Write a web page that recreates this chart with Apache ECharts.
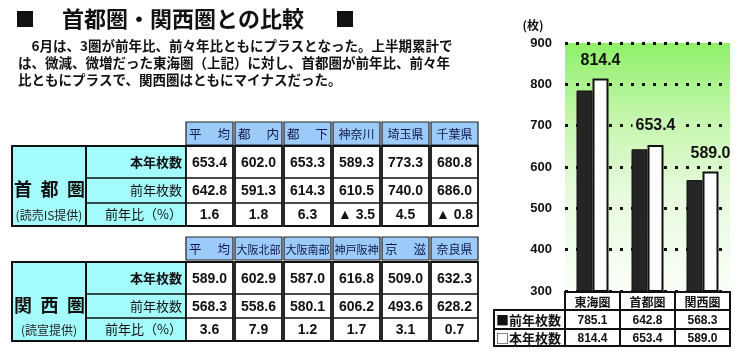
<!DOCTYPE html>
<html><head><meta charset="utf-8">
<script src="https://cdn.jsdelivr.net/npm/echarts@6/dist/echarts.min.js"></script>
<style>html,body{margin:0;padding:0;background:#fff}#c{width:747px;height:356px}</style>
</head><body><div id="c"></div>
<script>
// ---------- data ----------
const titleText = '首都圏・関西圏との比較';
const paragraph = [
  '　6月は、3圏が前年比、前々年比ともにプラスとなった。上半期累計で',
  'は、微減、微増だった東海圏（上記）に対し、首都圏が前年比、前々年',
  '比ともにプラスで、関西圏はともにマイナスだった。'
];
const rowLabels = ['本年枚数', '前年枚数', '前年比（%）'];

const shutoName = ['首', '都', '圏'];
const shutoSource = '(読売IS提供)';
const shutoCols = ['平　均', '都　内', '都　下', '神奈川', '埼玉県', '千葉県'];
const shutoThis = [653.4, 602.0, 653.3, 589.3, 773.3, 680.8];
const shutoPrev = [642.8, 591.3, 614.3, 610.5, 740.0, 686.0];
const shutoRatio = ['1.6', '1.8', '6.3', '▲ 3.5', '4.5', '▲ 0.8'];

const kansaiName = ['関', '西', '圏'];
const kansaiSource = '(読宣提供)';
const kansaiCols = ['平　均', '大阪北部', '大阪南部', '神戸阪神', '京　滋', '奈良県'];
const kansaiThis = [589.0, 602.9, 587.0, 616.8, 509.0, 632.3];
const kansaiPrev = [568.3, 558.6, 580.1, 606.2, 493.6, 628.2];
const kansaiRatio = ['3.6', '7.9', '1.2', '1.7', '3.1', '0.7'];

const regions = ['東海圏', '首都圏', '関西圏'];
const prevYear = [785.1, 642.8, 568.3];
const thisYear = [814.4, 653.4, 589.0];
const seriesNames = ['前年枚数', '本年枚数'];
const yMin = 300, yMax = 900, yStep = 100;
const yUnit = '(枚)';

// ---------- helpers ----------
const JP = "'Noto Sans CJK JP', sans-serif";
const NUM = "'Liberation Sans', 'Noto Sans CJK JP', sans-serif";
function rect(x, y, w, h, fill, stroke, lw, z) {
  return { type: 'rect', z: z || 10, shape: { x, y, width: w, height: h },
    style: { fill: fill, stroke: stroke || null, lineWidth: lw || 0 } };
}
function line(x1, y1, x2, y2, lw, z) {
  return { type: 'line', z: z || 11, shape: { x1, y1, x2, y2 }, style: { stroke: '#111', lineWidth: lw || 1.5 } };
}
function text(x, y, str, font, align, color, z) {
  return { type: 'text', z: z || 12,
    style: { x, y, text: str, font: font, fill: color || '#111',
      textAlign: align || 'center', textVerticalAlign: 'middle', align: align || 'center', verticalAlign: 'middle' } };
}

function buildTable(g, cfg) {
  const { headerY, headerH, rows, cols, name, source, thisV, prevV, ratio, nameY, srcY } = cfg;
  const colX = [186, 235, 284, 333, 382, 431], colW = 47;
  const top = rows[0], bottom = rows[3];
  cols.forEach((c, i) => {
    g.push(rect(colX[i], headerY, colW, headerH, '#9ccbfa', '#222', 1.2));
    const cy = headerY + headerH / 2 + 1;
    if (c.indexOf('　') >= 0) {
      const p = c.split('　');
      g.push(text(colX[i] + 3, cy, p[0], '12.5px ' + JP, 'left', '#10184a'));
      g.push(text(colX[i] + colW - 3, cy, p[1], '12.5px ' + JP, 'right', '#10184a'));
    } else {
      g.push(text(colX[i] + colW / 2, cy, c, (c.length > 3 ? '11px ' : '12px ') + JP, 'center', '#10184a'));
    }
  });
  g.push(rect(12, top, 74, bottom - top, '#a3fbfb', '#111', 2));
  g.push(rect(86, top, 100, bottom - top, '#a3fbfb', '#111', 2));
  g.push(line(86, rows[1], 186, rows[1], 1.5));
  g.push(line(86, rows[2], 186, rows[2], 1.5));
  name.forEach((ch, i) => g.push(text(23 + i * 26.5, nameY, ch, 'bold 18px ' + JP, 'center', '#111')));
  g.push(text(49, srcY, source, '12px ' + JP, 'center', '#222'));
  rowLabels.forEach((lb, r) => {
    const cy = (rows[r] + rows[r + 1]) / 2;
    g.push(text(182, cy, lb, (r === 0 ? 'bold ' : '') + '13px ' + JP, 'right', '#111'));
  });
  cols.forEach((c, i) => {
    g.push(rect(colX[i], top, colW, bottom - top, '#ffffff', '#111', 1.8));
    g.push(line(colX[i], rows[1], colX[i] + colW, rows[1], 1.5));
    g.push(line(colX[i], rows[2], colX[i] + colW, rows[2], 1.5));
    const vals = [thisV[i].toFixed(1), prevV[i].toFixed(1), ratio[i]];
    vals.forEach((v, r) => {
      const cy = (rows[r] + rows[r + 1]) / 2 + 1;
      g.push(text(colX[i] + colW / 2, cy, v, 'bold 14px ' + NUM, 'center', '#111'));
    });
  });
}

// ---------- chart ----------
const chart = echarts.init(document.getElementById('c'), null, { renderer: 'canvas' });
const gridL = 565, gridT = 43, gridW = 165, gridH = 248;
chart.setOption({
  animation: false,
  backgroundColor: '#ffffff',
  grid: { left: gridL, top: gridT, width: gridW, height: gridH, show: true, borderWidth: 0,
    backgroundColor: { type: 'linear', x: 0, y: 0, x2: 0, y2: 1,
      colorStops: [{ offset: 0, color: '#8ef068' }, { offset: 0.3, color: '#c4f6ac' },
        { offset: 0.6, color: '#e6fadc' }, { offset: 1, color: '#fbfff9' }] } },
  xAxis: { type: 'category', data: regions, axisLine: { show: false }, axisTick: { show: false },
    axisLabel: { show: false }, splitLine: { show: false } },
  yAxis: { type: 'value', min: yMin, max: yMax, interval: yStep,
    axisLine: { show: false }, axisTick: { show: false },
    axisLabel: { fontSize: 13, fontWeight: 'bold', color: '#111', margin: 13, fontFamily: NUM },
    splitLine: { show: true, lineStyle: { color: '#111', width: 3, type: [3, 8] } } },
  series: [
    { name: seriesNames[0], type: 'bar', data: prevYear, barWidth: 16, barGap: '0%',
      itemStyle: { color: '#252525', borderColor: '#111', borderWidth: 1 } },
    { name: seriesNames[1], type: 'bar', data: thisYear.map((v, i) => ({ value: v,
        label: i === 1 ? { backgroundColor: '#c9f6b4', padding: [1, 3] } : {} })),
      barWidth: 16,
      itemStyle: { color: '#ffffff', borderColor: '#111', borderWidth: 2 },
      label: { show: true, position: 'top', distance: 10, fontSize: 16, fontWeight: 'bold',
        color: '#111', fontFamily: NUM, formatter: p => p.value.toFixed(1) } }
  ]
});

// ---------- graphic (title, text, tables) ----------
const g = [];
g.push(text(25, 19, '■', 'bold 20px ' + JP, 'center', '#111'));
g.push(text(62, 19, titleText, 'bold 22px ' + JP, 'left', '#111'));
g.push(text(345, 19, '■', 'bold 20px ' + JP, 'center', '#111'));
paragraph.forEach((ln, i) => g.push(text(18, 46 + i * 17, ln, 'bold 13.5px ' + JP, 'left', '#111')));

buildTable(g, { headerY: 122, headerH: 23, rows: [146, 178, 203, 226], cols: shutoCols, name: shutoName,
  source: shutoSource, thisV: shutoThis, prevV: shutoPrev, ratio: shutoRatio, nameY: 189, srcY: 215 });
buildTable(g, { headerY: 237, headerH: 23, rows: [262, 294, 318, 341], cols: kansaiCols, name: kansaiName,
  source: kansaiSource, thisV: kansaiThis, prevV: kansaiPrev, ratio: kansaiRatio, nameY: 305, srcY: 330 });

g.push(text(533, 25, yUnit, 'bold 12px ' + JP, 'center', '#111'));

const band = gridW / regions.length;
const tRows = [292, 310, 329, 346];
const leftX = 494;
regions.forEach((r, i) => {
  const cx = chart.convertToPixel({ xAxisIndex: 0 }, r);
  const x0 = cx - band / 2;
  g.push(rect(x0, tRows[0], band, tRows[1] - tRows[0], '#ffffff', '#111', 2));
  g.push(text(cx, (tRows[0] + tRows[1]) / 2 + 1, r, 'bold 12px ' + JP, 'center', '#111'));
  g.push(rect(x0, tRows[1], band, tRows[2] - tRows[1], '#ffffff', '#111', 2));
  g.push(rect(x0, tRows[2], band, tRows[3] - tRows[2], '#ffffff', '#111', 2));
  g.push(text(cx, (tRows[1] + tRows[2]) / 2 + 1, prevYear[i].toFixed(1), 'bold 12px ' + NUM, 'center', '#111'));
  g.push(text(cx, (tRows[2] + tRows[3]) / 2 + 1, thisYear[i].toFixed(1), 'bold 12px ' + NUM, 'center', '#111'));
});
g.push(rect(leftX, tRows[1], gridL - leftX, tRows[2] - tRows[1], '#ffffff', '#111', 2));
g.push(rect(leftX, tRows[2], gridL - leftX, tRows[3] - tRows[2], '#ffffff', '#111', 2));
g.push(text(leftX + 2, (tRows[1] + tRows[2]) / 2 + 1, '■' + seriesNames[0], 'bold 13px ' + JP, 'left', '#111'));
g.push(text(leftX + 2, (tRows[2] + tRows[3]) / 2 + 1, '□' + seriesNames[1], 'bold 13px ' + JP, 'left', '#111'));

chart.setOption({ graphic: { elements: g } });
</script></body></html>
